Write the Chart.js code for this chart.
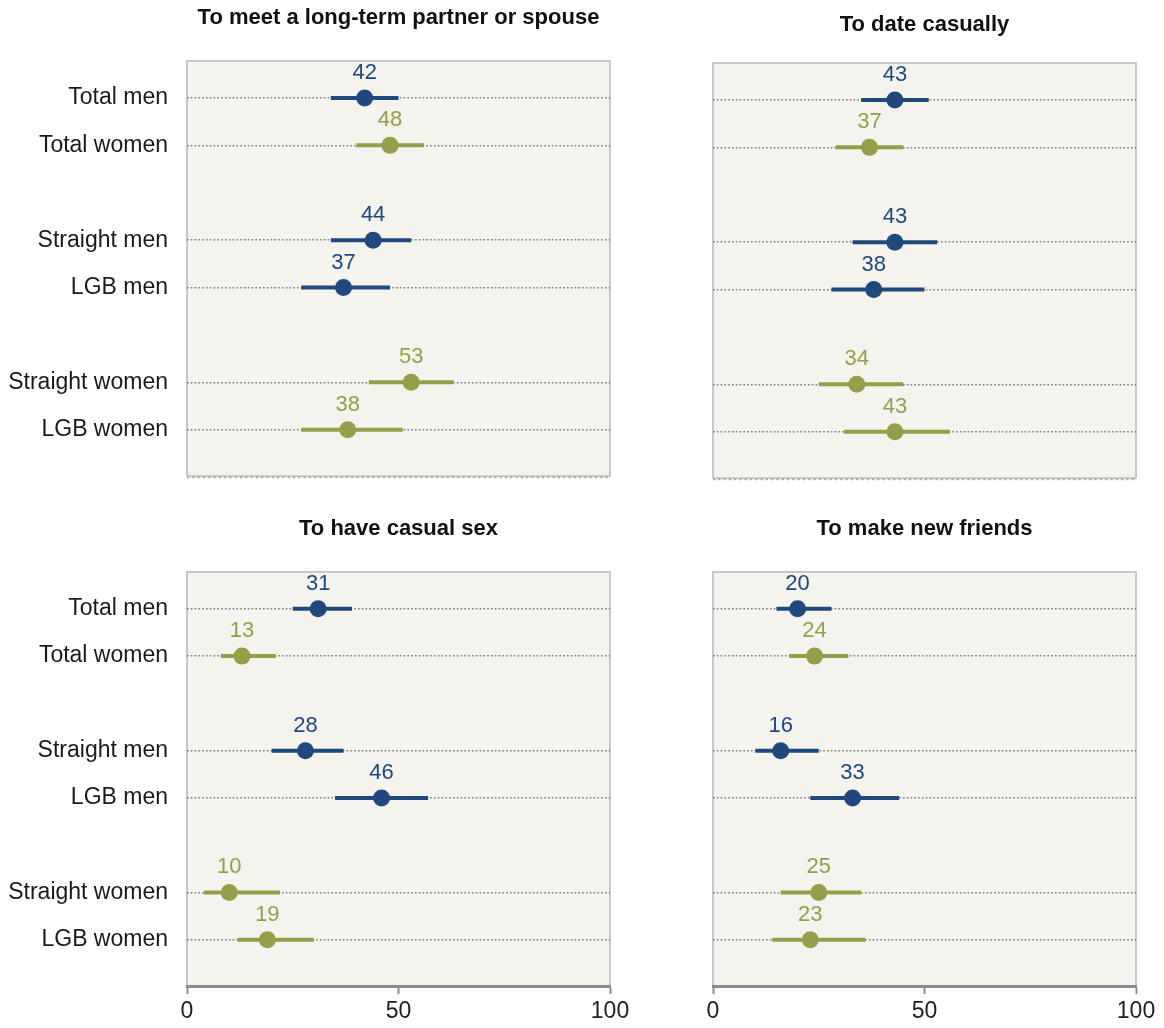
<!DOCTYPE html>
<html><head><meta charset="utf-8">
<script src="https://cdn.jsdelivr.net/npm/chart.js@4.4.1/dist/chart.umd.min.js"></script>
<style>
html,body{margin:0;padding:0;background:#fff;}
#wrap{position:relative;width:1164px;height:1028px;overflow:hidden;}
canvas{position:absolute;}
</style></head><body>
<div id="wrap">
<canvas id="c1" width="650" height="509" style="left:0;top:0"></canvas>
<canvas id="c2" width="464" height="511" style="left:700px;top:0"></canvas>
<canvas id="c3" width="650" height="528" style="left:0;top:500px"></canvas>
<canvas id="c4" width="464" height="528" style="left:700px;top:500px"></canvas>
</div>
<script>
// ---- data ----
const categories = ['Total men','Total women','Straight men','LGB men','Straight women','LGB women'];
const genders = ['men','women','men','men','women','women'];
const xTicks = [0, 50, 100];

const panelTitles = ['To meet a long-term partner or spouse','To date casually','To have casual sex','To make new friends'];

const partnerValues = [42, 48, 44, 37, 53, 38];
const partnerLow    = [34, 40, 34, 27, 43, 27];
const partnerHigh   = [50, 56, 53, 48, 63, 51];

const dateValues = [43, 37, 43, 38, 34, 43];
const dateLow    = [35, 29, 33, 28, 25, 31];
const dateHigh   = [51, 45, 53, 50, 45, 56];

const sexValues = [31, 13, 28, 46, 10, 19];
const sexLow    = [25,  8, 20, 35,  4, 12];
const sexHigh   = [39, 21, 37, 57, 22, 30];

const friendsValues = [20, 24, 16, 33, 25, 23];
const friendsLow    = [15, 18, 10, 23, 16, 14];
const friendsHigh   = [28, 32, 25, 44, 35, 36];

// ---- styling ----
const COLORS = {men:'#1f497d', women:'#959e48'};
const FONT = '"Liberation Sans", Arial, sans-serif';
const BG = '#f4f3ee';
const BORDER = '#c8c8c8';

// category slot index with a blank slot between each pair
const slotOf = i => i + Math.floor(i / 2);
const slotLabels = {};
categories.forEach((c, i) => { slotLabels[slotOf(i)] = c; });
const nSlots = slotOf(categories.length - 1) + 1;

const boxPlugin = {
  id: 'box',
  beforeDraw(chart, args, opts) {
    const {ctx, chartArea: a} = chart;
    ctx.save();
    ctx.fillStyle = BG;
    ctx.fillRect(a.left, a.top, a.right - a.left, a.bottom - a.top);
    ctx.strokeStyle = BORDER;
    ctx.lineWidth = 2;
    ctx.beginPath();
    ctx.moveTo(a.left, a.bottom); ctx.lineTo(a.left, a.top);
    ctx.lineTo(a.right, a.top); ctx.lineTo(a.right, a.bottom);
    ctx.stroke();
    if (opts.dottedBottom) {
      ctx.strokeStyle = '#c4c4c4';
      ctx.lineWidth = 2;
      ctx.beginPath(); ctx.moveTo(a.left, a.bottom); ctx.lineTo(a.right, a.bottom); ctx.stroke();
      ctx.strokeStyle = '#a8a8a8';
      ctx.setLineDash([2, 3.3]);
      ctx.beginPath(); ctx.moveTo(a.left, a.bottom + 1); ctx.lineTo(a.right, a.bottom + 1); ctx.stroke();
    }
    ctx.restore();
  },
  afterDraw(chart, args, opts) {
    const {ctx, chartArea: a} = chart;
    ctx.save();
    ctx.font = 'bold 22px ' + FONT;
    ctx.fillStyle = '#111';
    ctx.textAlign = 'center';
    ctx.textBaseline = 'middle';
    ctx.fillText(opts.title, (a.left + a.right) / 2, a.top - opts.titleGap);
    ctx.restore();
  }
};

const valueLabelPlugin = {
  id: 'valueLabels',
  afterDatasetsDraw(chart) {
    const {ctx} = chart;
    chart.data.datasets.forEach((ds, di) => {
      if (!ds.isPoints) return;
      const meta = chart.getDatasetMeta(di);
      ctx.save();
      ctx.font = '22px ' + FONT;
      ctx.textAlign = 'center';
      ctx.textBaseline = 'middle';
      meta.data.forEach((pt, i) => {
        ctx.fillStyle = COLORS[genders[i]];
        ctx.fillText(String(ds.data[i].x), pt.x, pt.y - 25);
      });
      ctx.restore();
    });
  }
};

function makePanel(id, title, values, lows, highs, cfg) {
  const datasets = categories.map((c, i) => ({
    type: 'line',
    data: [{x: lows[i], y: slotOf(i)}, {x: highs[i], y: slotOf(i)}],
    borderColor: COLORS[genders[i]],
    borderWidth: 4,
    borderCapStyle: 'butt',
    pointRadius: 0,
    pointHoverRadius: 0,
    fill: false,
    order: 2
  }));
  datasets.push({
    type: 'scatter',
    isPoints: true,
    data: values.map((v, i) => ({x: v, y: slotOf(i)})),
    pointRadius: 8.5,
    pointHoverRadius: 8.5,
    pointBorderWidth: 0,
    pointBackgroundColor: genders.map(g => COLORS[g]),
    order: 1
  });

  new Chart(document.getElementById(id), {
    type: 'scatter',
    data: {datasets},
    plugins: [boxPlugin, valueLabelPlugin],
    options: {
      responsive: false,
      animation: false,
      events: [],
      layout: {padding: cfg.padding},
      plugins: {
        legend: {display: false},
        tooltip: {enabled: false},
        title: {display: false},
        box: {title, titleGap: cfg.titleGap, dottedBottom: !cfg.showX}
      },
      scales: {
        x: {
          type: 'linear',
          min: xTicks[0], max: xTicks[xTicks.length - 1],
          display: cfg.showX,
          afterBuildTicks: s => { s.ticks = xTicks.map(v => ({value: v})); },
          afterFit: s => { if (cfg.showX) s.height = 42; },
          ticks: {font: {family: FONT, size: 23}, color: '#222', padding: 4, maxRotation: 0},
          grid: {drawOnChartArea: false, drawTicks: true, tickLength: 8, tickColor: '#8c8c8c', tickWidth: 2},
          border: {display: true, color: '#8c8c8c', width: 3}
        },
        y: {
          type: 'linear',
          reverse: true,
          min: -0.78, max: nSlots - 0.02,
          afterBuildTicks: s => {
            const t = [];
            for (let k = 0; k < nSlots; k++) t.push({value: k});
            s.ticks = t;
          },
          afterFit: s => { s.width = cfg.yWidth; },
          ticks: {
            autoSkip: false,
            padding: 19,
            font: {family: FONT, size: 23},
            color: '#1a1a1a',
            callback: v => cfg.showLabels ? (slotLabels[v] || '') : ''
          },
          grid: {
            drawTicks: false,
            lineWidth: 1.6,
            color: c => (c.tick && slotLabels[c.tick.value] !== undefined) ? '#7d7d7d' : 'rgba(0,0,0,0)'
          },
          border: {display: false, dash: [1.6, 2.2]}
        }
      }
    }
  });
}

makePanel('c1', panelTitles[0], partnerValues, partnerLow, partnerHigh,
  {padding: {top: 61, left: 0, right: 40, bottom: 0}, yWidth: 187, showLabels: true, showX: false, titleGap: 43});
makePanel('c2', panelTitles[1], dateValues, dateLow, dateHigh,
  {padding: {top: 63, left: 0, right: 28, bottom: 0}, yWidth: 13, showLabels: false, showX: false, titleGap: 38});
makePanel('c3', panelTitles[2], sexValues, sexLow, sexHigh,
  {padding: {top: 72, left: 0, right: 40, bottom: 0}, yWidth: 187, showLabels: true, showX: true, titleGap: 43});
makePanel('c4', panelTitles[3], friendsValues, friendsLow, friendsHigh,
  {padding: {top: 72, left: 0, right: 28, bottom: 0}, yWidth: 13, showLabels: false, showX: true, titleGap: 43});
</script>
</body></html>
